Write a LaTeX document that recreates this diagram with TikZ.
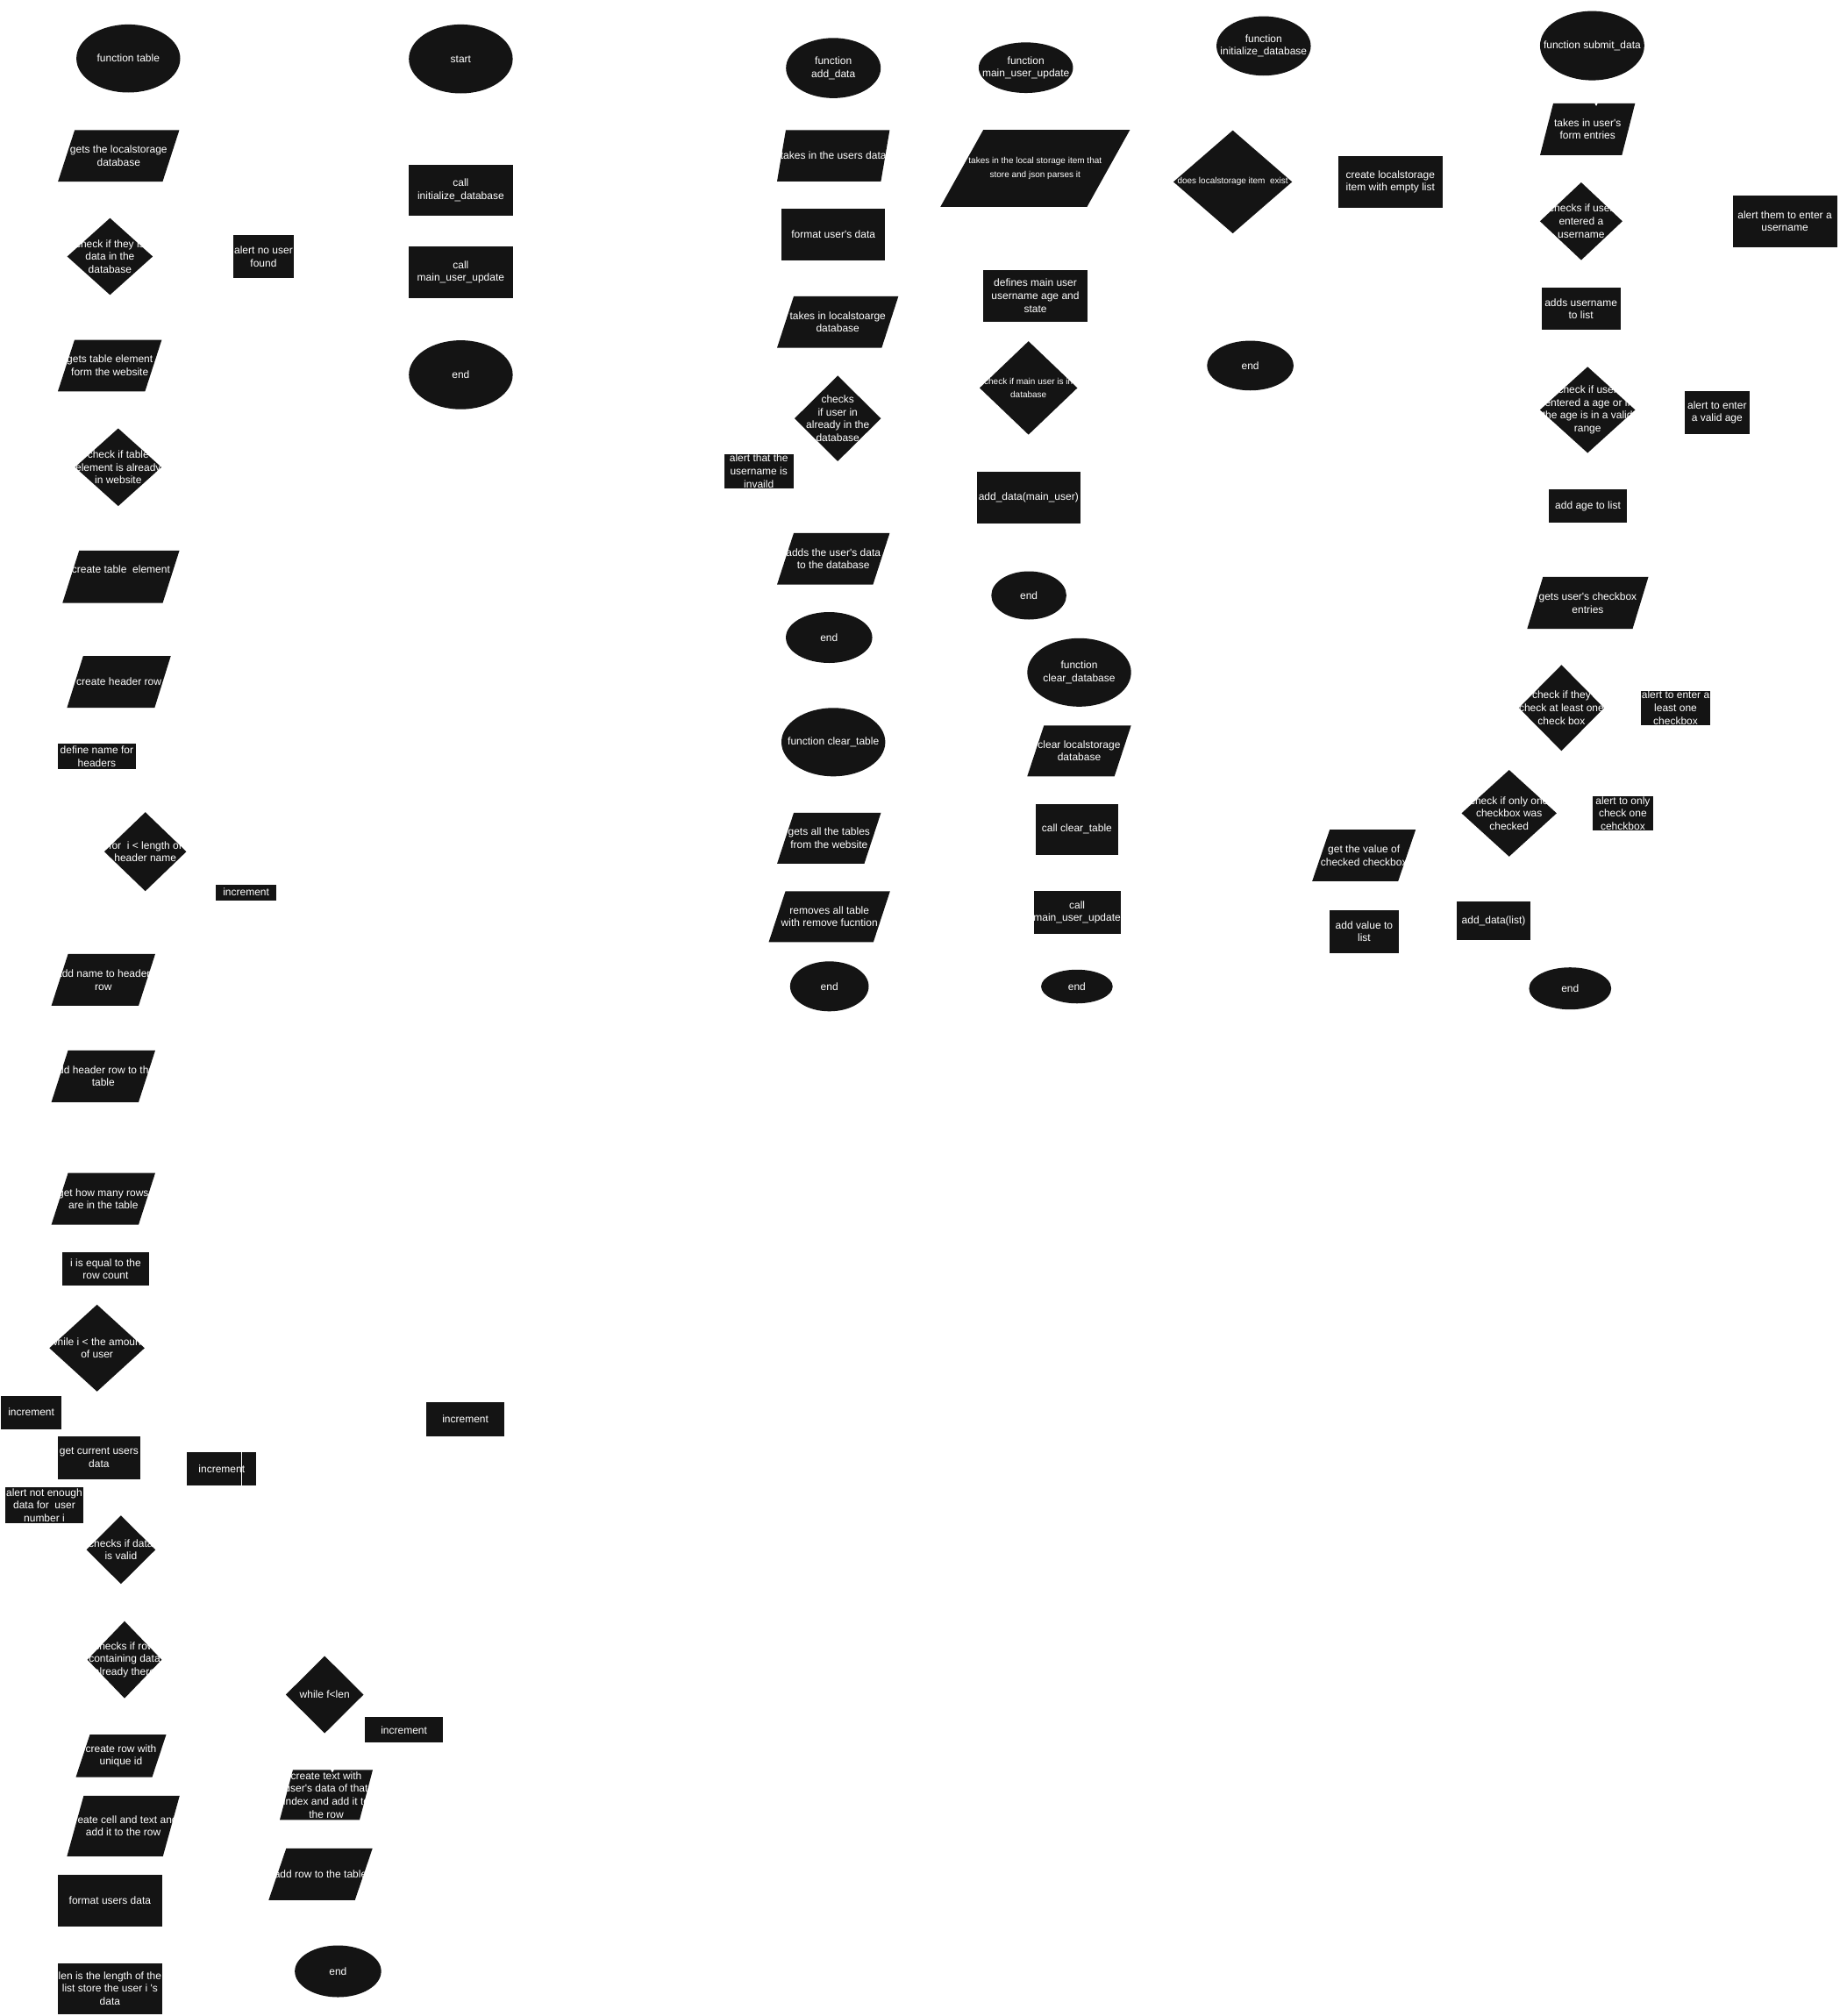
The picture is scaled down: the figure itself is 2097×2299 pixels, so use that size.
\documentclass[tikz,border=0pt]{standalone}
\usepackage{fontspec}
\usepackage{tikz}
\usetikzlibrary{shapes.geometric, arrows.meta}

\newfontfamily\flowfont{Liberation Sans}
\definecolor{boxc}{RGB}{20,20,20}

\tikzset{
	shp/.style={fill=boxc, inner sep=0pt, outer sep=0pt},
	term/.style 2 args={shp, ellipse, minimum width=#1, minimum height=#2},
	proc/.style 2 args={shp, rectangle, minimum width=#1, minimum height=#2},
	dec/.style 2 args={shp, diamond, minimum width=#1, minimum height=#2},
	io/.style n args={3}{rectangle, inner sep=0pt, outer sep=0pt, minimum width=#1, minimum height=#2,
		path picture={\fill[boxc] ([xshift=#3]path picture bounding box.north west) -- (path picture bounding box.north east) -- ([xshift=-#3]path picture bounding box.south east) -- (path picture bounding box.south west) -- cycle;}},
	txt/.style={text=white, font=\flowfont\fontsize{12}{14.6}\selectfont, align=center, inner sep=0pt},
	txts/.style={txt, font=\flowfont\fontsize{10}{15.3}\selectfont},
	lbl/.style={label={[txt]center:{#1}}},
	lbls/.style={label={[txts]center:{#1}}},
	hidden/.style={white, line width=1pt, -{Triangle[width=3.5pt,length=3.5pt]}}
}

\begin{document}
\begin{tikzpicture}[x=1pt,y=-1pt]

	\fill[white] (0,0) rectangle (2097,2299);
	\useasboundingbox (0,0) rectangle (2097,2299);

	% function table
	\node[term={118.4}{77.6}, lbl={function table}] (fntable) at (146.3,66.7) {};
	\node[io={138.3}{58.7}{19}, lbl={gets the localstorage\\database}] (getsdb) at (135.3,177.7) {};
	\node[dec={97.5}{87.6}, lbl={check if they is\\data in the\\database}] (chkdata) at (125.4,292.5) {};
	\node[proc={68.7}{48.8}, lbl={alert no user\\found}] (alertnouser) at (300.5,292.5) {};
	\node[io={118.4}{58.7}{19}, lbl={gets table element\\form the website}] (gettable) at (125.2,416.9) {};
	\node[dec={98.5}{88.6}, lbl={check if table\\element is already\\in website}] (chktable) at (134.8,532.8) {};
	\node[io={133.3}{59.7}{19}, label={[txt, yshift=8pt]center:{create table\ \ element}}] (mktable) at (137.9,657.7) {};
	\node[io={118.3}{59}{18.4}, lbl={create header row}] (mkheader) at (135.6,777.5) {};
	\node[proc={89.6}{29}, lbl={define name for\\headers}] (defnames) at (110.4,862.5) {};
	\node[dec={93.5}{90}, lbl={for\ \ i < length of\\header name}] (forhdr) at (165.7,971.2) {};
	\node[proc={68.7}{18}, lbl={increment}] (inca) at (280.6,1017.6) {};
	\node[io={118.4}{59}{19}, lbl={add name to header\\row}] (addname) at (117.8,1117.4) {};
	\node[io={118.4}{59}{19}, lbl={add header row to the\\table}] (addhdr) at (117.8,1227.3) {};
	\node[io={118.4}{59}{19}, lbl={get how many rows\\are in the table}] (getrows) at (117.8,1367.1) {};
	\node[proc={98.5}{38}, lbl={i is equal to the\\row count}] (iequal) at (120.5,1447.2) {};
	\node[dec={108.5}{99}, lbl={while i < the amount\\of user}] (whileusr) at (110.6,1537.3) {};
	\node[proc={68.7}{38}, lbl={increment}] (incb) at (35.6,1610.6) {};
	\node[proc={89}{38.7}, lbl={increment}] (incc) at (530.6,1618.3) {};
	\node[proc={94.1}{48.5}, lbl={get current users\\data}] (getcur) at (112.9,1662.3) {};
	\node[proc={79}{38.6}, lbl={increment}] (incd) at (252.8,1675) {};
	\draw[white, line width=1pt] ([xshift=22.9]incd.north) -- ([xshift=22.9]incd.south);
	\node[proc={88.6}{41}, lbl={alert not enough\\data for\ \ user\\number i}] (alertdata) at (50.5,1716.6) {};
	\node[dec={78.6}{78}, lbl={checks if data\\is valid}] (chkvalid) at (137.9,1767.3) {};
	\node[dec={84.6}{88}, lbl={checks if row\\containing data\\already there}] (chkrow) at (142,1892.7) {};
	\node[dec={88.6}{88}, lbl={while f<len}] (whilef) at (370.2,1932.5) {};
	\node[proc={89.6}{29}, lbl={increment}] (ince) at (460.6,1972.7) {};
	\node[io={103}{48.5}{16}, lbl={create row with\\unique id}] (mkrow) at (138,2002.3) {};
	\node[io={106}{57}{15}, lbl={create text with\\user's data of that\\index and add it to\\the row}] (mktext) at (372,2046.8) {};
	\coordinate (textnotch) at (379,2021.5);
	\draw[hidden] (whilef.south -| textnotch) -- (textnotch);
	\node[io={128.4}{69}{19}, lbl={create cell and text and\\add it to the row}] (mkcell) at (140.6,2082.3) {};
	\node[io={118.4}{59}{20}, lbl={add row to the table}] (addrow) at (365.5,2137.4) {};
	\node[proc={119}{58.6}, lbl={format users data}] (fmtusers) at (125.4,2167.4) {};
	\node[term={98.5}{59}, lbl={end}] (endtable) at (385.4,2248) {};
	\node[proc={119}{58}, lbl={len is the length of the\\list store the user i 's\\data}] (lenis) at (125.4,2267.5) {};

	% start
	\node[term={118.4}{78.6}, lbl={start}] (start) at (525.4,67.2) {};
	\node[proc={118.4}{58.7}, lbl={call\\initialize\_database}] (callinit) at (525.4,216.9) {};
	\node[proc={118.4}{59.7}, lbl={call\\main\_user\_update}] (callmain) at (525.4,310.4) {};
	\node[term={118.4}{78.6}, lbl={end}] (endstart) at (525.4,427.4) {};

	% function add_data and clear_table
	\node[term={108}{68.6}, lbl={function\\add\_data}] (fnadd) at (950.2,77.6) {};
	\node[io={128.4}{58.7}{10}, lbl={takes in the users data}] (takesdata) at (950.2,177.6) {};
	\node[proc={118.4}{58.7}, lbl={format user's data}] (fmtuser) at (950.2,267.3) {};
	\node[io={138.3}{58.7}{19}, lbl={takes in localstoarge\\database}] (takesdb) at (955.2,367.2) {};
	\node[dec={98.5}{97.5}, lbl={checks\\if user in\\already in the\\database}] (chkuser) at (955.2,477.2) {};
	\node[proc={78.6}{38.8}, lbl={alert that the\\username is\\invaild}] (alertname) at (865.2,537.3) {};
	\node[io={128.4}{58.7}{19}, lbl={adds the user's data\\to the database}] (adddb) at (950.2,637.3) {};
	\node[term={98.5}{58}, lbl={end}] (endadd) at (945.3,727) {};
	\node[term={118.4}{78}, lbl={function clear\_table}] (fnclrtab) at (950.2,846.3) {};
	\node[io={118.4}{58}{19}, lbl={gets all the tables\\from the website}] (getall) at (945.3,955.8) {};
	\node[io={138.3}{58}{19}, lbl={removes all table\\with remove fucntion}] (rmall) at (945.7,1045.3) {};
	\node[term={89.6}{57}, lbl={end}] (endclrtab) at (945.7,1124.8) {};

	% function main_user_update and clear_database
	\node[term={107.5}{57.7}, lbl={function\\main\_user\_update}] (fnmain) at (1169.7,77.2) {};
	\node[io={216}{87.6}{48.8}, lbls={takes in the local storage item that\\store and json parses it}] (parse) at (1180.3,192) {};
	\node[proc={119.4}{58.7}, lbl={defines main user\\username age and\\state}] (defmain) at (1180.5,337.3) {};
	\node[dec={111.4}{106.5}, lbls={check if main user is in\\database}] (chkmain) at (1172.7,442.4) {};
	\node[proc={118.4}{58.7}, lbl={add\_data(main\_user)}] (addmain) at (1172.8,567.2) {};
	\node[term={85.6}{55}, lbl={end}] (endmain) at (1173.1,679) {};
	\node[term={118.4}{78}, lbl={function\\clear\_database}] (fnclrdb) at (1230.5,766.8) {};
	\node[io={118.4}{58}{19}, lbl={clear localstorage\\database}] (clrls) at (1230.5,856.3) {};
	\node[proc={93.5}{58}, lbl={call clear\_table}] (callclr) at (1227.9,945.8) {};
	\node[proc={99.1}{48.6}, lbl={call\\main\_user\_update}] (callmaintwo) at (1228.1,1040.3) {};
	\node[term={81.6}{38.5}, lbl={end}] (endclrdb) at (1227.9,1125) {};

	% function initialize_database
	\node[term={107.5}{67.7}, lbl={function\\initialize\_database}] (fninit) at (1440.8,52.4) {};
	\node[dec={135.3}{117.4}, lbls={does localstorage item\ \ exist}] (exists) at (1405.6,207.4) {};
	\node[proc={119}{58.7}, lbl={create localstorage\\item with empty list}] (mkls) at (1585.3,207.4) {};
	\node[term={98.5}{56.7}, lbl={end}] (endinit) at (1425.6,416.9) {};

	% function submit_data
	\node[term={118.9}{79}, lbl={function submit\_data}] (fnsubmit) at (1815.4,52.1) {};
	\node[io={108.3}{59}{15}, lbl={takes in user's\\form entries}] (takesform) at (1810.2,147.3) {};
	\coordinate (formnotch) at (1820,121);
	\draw[hidden] (fnsubmit.south -| formnotch) -- (formnotch);
	\node[dec={94}{88.6}, lbl={checks if user\\entered a\\username}] (chkname) at (1802.9,252.3) {};
	\node[proc={119}{58.7}, lbl={alert them to enter a\\username}] (alertuser) at (2035,252.4) {};
	\node[proc={90}{48.3}, lbl={adds username\\to list}] (addusername) at (1802.6,352.2) {};
	\node[dec={108.5}{98.2}, lbl={check if user\\entered a age or if\\the age is in a valid\\range}] (chkage) at (1810.2,467.4) {};
	\node[proc={74.3}{48.8}, lbl={alert to enter\\a valid age}] (alertage) at (1957.8,470.2) {};
	\node[proc={89.2}{38.4}, lbl={add age to list}] (addage) at (1810.5,577.1) {};
	\node[io={138.2}{59.2}{18}, lbl={gets user's checkbox\\entries}] (getcb) at (1810.4,687.5) {};
	\node[dec={97}{98}, lbl={check if they\\check at least one\\check box}] (chkcb) at (1780.4,807.3) {};
	\node[proc={79.6}{39}, lbl={alert to enter a\\least one\\checkbox}] (alertcb) at (1910.5,807.2) {};
	\node[dec={108.4}{98.7}, lbl={check if only one\\checkbox was\\checked}] (chkone) at (1720.7,927.4) {};
	\node[proc={68.9}{39}, lbl={alert to only\\check one\\cehckbox}] (alertone) at (1850.4,927.5) {};
	\node[io={118}{58.8}{20}, lbl={get the value of\\checked checkbox}] (getval) at (1555.2,975.4) {};
	\node[proc={78.8}{48.7}, lbl={add value to\\list}] (addval) at (1555.4,1062.3) {};
	\node[proc={84.2}{43.6}, lbl={add\_data(list)}] (adddatalist) at (1703,1049.9) {};
	\node[term={93.7}{48}, lbl={end}] (endsubmit) at (1790.3,1127.2) {};

\end{tikzpicture}
\end{document}
